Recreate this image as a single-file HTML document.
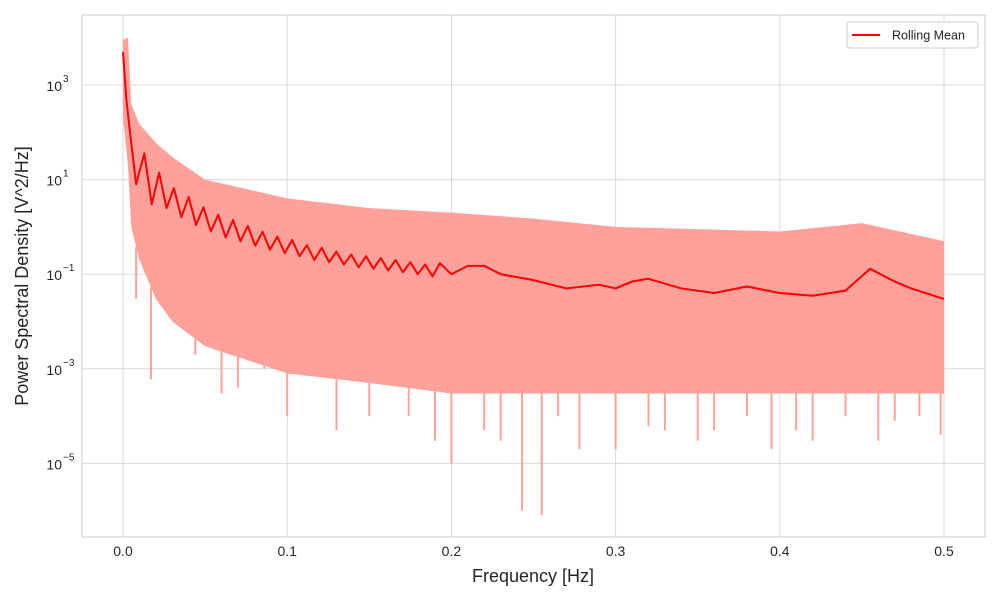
<!DOCTYPE html>
<html><head><meta charset="utf-8"><style>
body{margin:0;background:#fff;}
svg{display:block;font-family:"Liberation Sans",sans-serif;}
</style></head><body>
<svg id="chart" width="1000" height="600">
<rect x="0" y="0" width="1000" height="600" fill="#fff"/>
<g id="grid"></g>
<g id="band"></g>
<g id="meanG"></g>
<rect x="82" y="15" width="903" height="522" fill="none" stroke="#cccccc" stroke-width="1"/>
<g id="ticks"></g>
<text x="533" y="582" text-anchor="middle" font-size="18" fill="#262626">Frequency [Hz]</text>
<text transform="translate(28,276) rotate(-90)" text-anchor="middle" font-size="18" fill="#262626">Power Spectral Density [V^2/Hz]</text>
<g>
<rect x="847" y="22" width="131" height="26" rx="3" fill="#fff" stroke="#cccccc"/>
<line x1="852" y1="35" x2="880" y2="35" stroke="#ff0000" stroke-width="2"/>
<text x="892" y="39.5" font-size="12.5" fill="#262626">Rolling Mean</text>
</g>
</svg>
<script>
const xTicks=[0,0.1,0.2,0.3,0.4,0.5];
const xTickLabels=["0.0","0.1","0.2","0.3","0.4","0.5"];
const yTickExp=[3,1,-1,-3,-5];
const bandFreq=[0,0.003,0.005,0.01,0.02,0.03,0.05,0.1,0.15,0.2,0.25,0.3,0.35,0.4,0.45,0.5];
const bandUpper=[9000,10000,400,150,60,30,10,4,2.5,2,1.5,1,0.9,0.8,1.2,0.5];
const bandLower=[200,20,1,0.2,0.03,0.01,0.003,0.0008,0.0005,0.0003,0.0003,0.0003,0.0003,0.0003,0.0003,0.0003];
const spikeFreq=[0.008,0.017,0.044,0.06,0.07,0.086,0.1,0.13,0.15,0.174,0.19,0.2,0.22,0.23,0.243,0.255,0.265,0.278,0.3,0.32,0.33,0.35,0.36,0.38,0.395,0.41,0.42,0.44,0.46,0.47,0.485,0.498];
const spikeVal=[0.03,0.0006,0.002,0.0003,0.0004,0.001,0.0001,0.00005,0.0001,0.0001,0.00003,0.00001,0.00005,0.00003,0.000001,0.0000008,0.0001,0.00002,0.00002,0.00006,0.00005,0.00003,0.00005,0.0001,0.00002,0.00005,0.00003,0.0001,0.00003,0.00008,0.0001,0.00004];
const meanFreq=[0,0.002,0.005,0.008,0.013,0.0175,0.022,0.0265,0.031,0.0355,0.04,0.0445,0.049,0.0535,0.058,0.0625,0.067,0.0715,0.076,0.0805,0.085,0.0895,0.094,0.0985,0.103,0.1075,0.112,0.1165,0.121,0.1255,0.13,0.1345,0.139,0.1435,0.148,0.1525,0.157,0.1615,0.166,0.1705,0.175,0.1795,0.184,0.1885,0.193,0.2,0.21,0.22,0.23,0.25,0.27,0.29,0.3,0.31,0.32,0.34,0.36,0.38,0.4,0.42,0.44,0.455,0.47,0.48,0.5];
const meanVal=[5000,500,60,8,36,3,14,2.5,6.6,1.6,4.3,1.1,2.6,0.8,1.8,0.6,1.4,0.5,1.05,0.4,0.79,0.33,0.62,0.28,0.53,0.24,0.41,0.2,0.36,0.18,0.3,0.16,0.26,0.14,0.24,0.13,0.22,0.12,0.2,0.11,0.18,0.1,0.16,0.09,0.17,0.1,0.15,0.15,0.1,0.075,0.05,0.06,0.05,0.07,0.08,0.05,0.04,0.055,0.04,0.035,0.045,0.13,0.07,0.05,0.03];
const NS="http://www.w3.org/2000/svg";
const X=f=>123+f*1642;
const Y=v=>85+(3-Math.log10(v))*47.3;
function mk(t,a,p){const e=document.createElementNS(NS,t);for(const k in a)e.setAttribute(k,a[k]);p.appendChild(e);return e;}
const grid=document.getElementById('grid'),ticks=document.getElementById('ticks');
xTicks.forEach((t,i)=>{
 const l=mk('line',{x1:X(t),x2:X(t),y1:15,y2:537,stroke:'#d9d9d9'},grid);
 
 
 const tx=mk('text',{x:X(t),y:556,'text-anchor':'middle','font-size':14,fill:'#262626'},ticks);
 tx.textContent=xTickLabels[i];
 
 
});
yTickExp.forEach(e=>{
 const y=Y(Math.pow(10,e));
 const l=mk('line',{x1:82,x2:985,y1:y,y2:y,stroke:'#d9d9d9'},grid);
 
 
 const tx=mk('text',{x:62,y:y+6,'text-anchor':'end','font-size':14,fill:'#262626'},ticks);
 tx.textContent='10';
 
 
 const sp=mk('text',{x:63,y:y-3,'text-anchor':'start','font-size':10,fill:'#262626'},ticks);
 sp.textContent=e<0?'\u2212'+(-e):String(e);
 
 
});
const band=document.getElementById('band');
let pts=bandFreq.map((f,i)=>X(f)+','+Y(bandUpper[i]));
for(let i=bandFreq.length-1;i>=0;i--)pts.push(X(bandFreq[i])+','+Y(bandLower[i]));
const poly=mk('polygon',{points:pts.join(' '),fill:'#ffa19b'},band);


function interp(arr,f){for(let i=1;i<bandFreq.length;i++){if(f<=bandFreq[i]){const t=(f-bandFreq[i-1])/(bandFreq[i]-bandFreq[i-1]);return Math.pow(10,Math.log10(arr[i-1])*(1-t)+Math.log10(arr[i])*t);}}return arr[arr.length-1];}
spikeFreq.forEach((f,i)=>{
 const l=mk('line',{x1:X(f),x2:X(f),y1:Y(interp(bandLower,f)),y2:Y(spikeVal[i]),stroke:'#ffa19b','stroke-width':2},band);
 
 
});
const mg=document.getElementById('meanG');
const ml=mk('polyline',{points:meanFreq.map((f,i)=>X(f)+','+Y(meanVal[i])).join(' '),fill:'none',stroke:'#ff0000','stroke-width':2,'stroke-linejoin':'round'},mg);


</script>
</body></html>
